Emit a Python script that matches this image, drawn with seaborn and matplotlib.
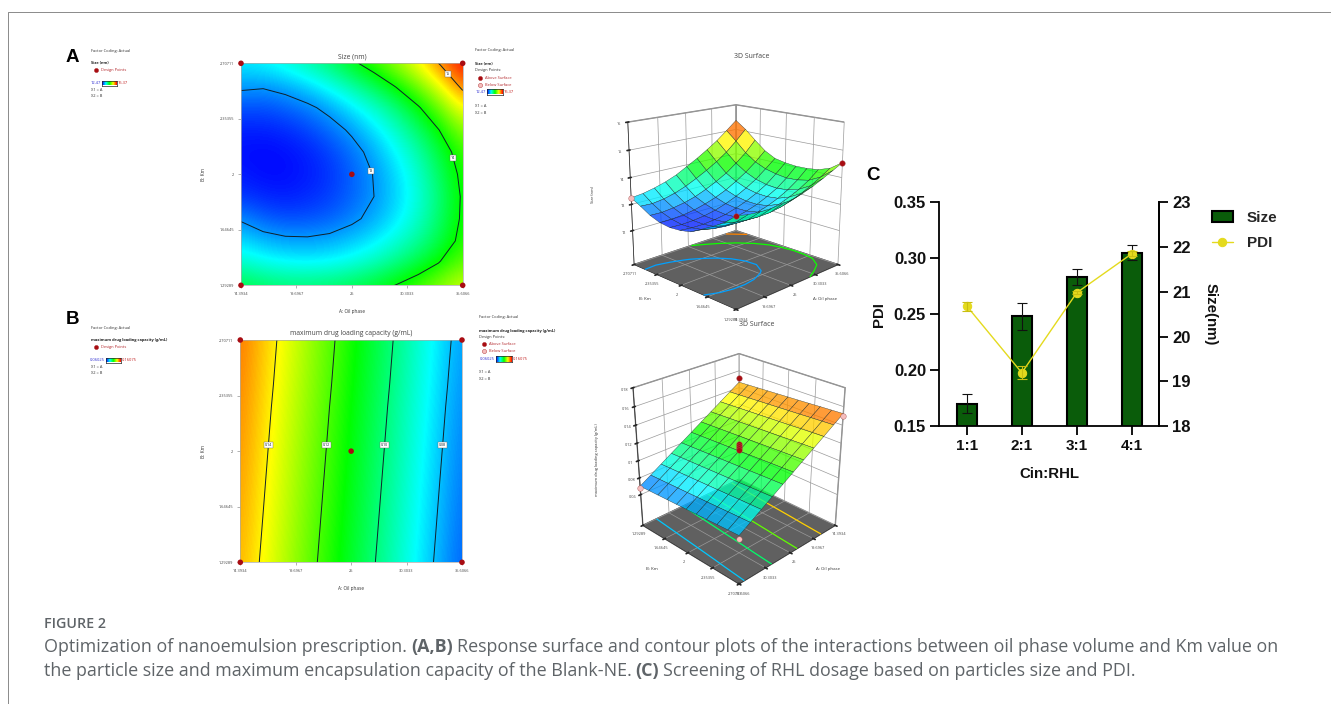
import numpy as np
import pandas as pd
import matplotlib
matplotlib.use('Agg')
import matplotlib.pyplot as plt
from matplotlib.colors import LinearSegmentedColormap, Normalize
from matplotlib.lines import Line2D
import seaborn as sns

W, H = 1331, 704

# Values
oil_ticks = [14.3934, 19.6967, 25, 30.3033, 35.6066]
km_ticks = [1.29289, 1.64645, 2, 2.35355, 2.70711]
oil_labels = ['14.3934', '19.6967', '25', '30.3033', '35.6066']
km_labels = ['1.29289', '1.64645', '2', '2.35355', '2.70711']

# rows go from lowest Km to highest Km, columns from lowest to highest oil phase
size_grid = [
    [13.80, 13.72, 13.68, 13.68, 13.71, 13.77, 13.87, 14.01, 14.18, 14.36, 14.55],
    [13.44, 13.35, 13.30, 13.28, 13.30, 13.37, 13.48, 13.63, 13.81, 14.02, 14.25],
    [13.20, 13.10, 13.05, 13.04, 13.07, 13.14, 13.24, 13.39, 13.57, 13.80, 14.10],
    [12.97, 12.86, 12.81, 12.82, 12.86, 12.95, 13.07, 13.23, 13.44, 13.71, 14.05],
    [12.75, 12.70, 12.68, 12.71, 12.77, 12.87, 13.00, 13.18, 13.39, 13.68, 14.04],
    [12.67, 12.63, 12.63, 12.67, 12.74, 12.86, 13.01, 13.20, 13.43, 13.74, 14.08],
    [12.64, 12.62, 12.64, 12.69, 12.78, 12.91, 13.08, 13.29, 13.53, 13.84, 14.16],
    [12.69, 12.69, 12.72, 12.79, 12.90, 13.04, 13.22, 13.45, 13.71, 14.02, 14.38],
    [12.83, 12.82, 12.87, 12.95, 13.07, 13.24, 13.44, 13.67, 13.97, 14.30, 14.72],
    [13.05, 13.03, 13.09, 13.20, 13.36, 13.56, 13.78, 14.03, 14.32, 14.68, 15.08],
    [13.25, 13.30, 13.40, 13.53, 13.70, 13.93, 14.16, 14.42, 14.70, 15.03, 15.37],
]
capacity_grid = [
    [.1465, .1389, .1312, .1236, .1160, .1083, .1007, .0931, .0855, .0778, .0702],
    [.1471, .1395, .1318, .1242, .1166, .1089, .1013, .0937, .0861, .0784, .0708],
    [.1477, .1401, .1324, .1248, .1172, .1095, .1019, .0943, .0867, .0790, .0714],
    [.1483, .1407, .1330, .1254, .1178, .1101, .1025, .0949, .0873, .0796, .0720],
    [.1489, .1413, .1336, .1260, .1184, .1107, .1031, .0955, .0879, .0802, .0726],
    [.1495, .1419, .1342, .1266, .1190, .1113, .1037, .0961, .0885, .0808, .0732],
    [.1501, .1425, .1348, .1272, .1196, .1119, .1043, .0967, .0891, .0814, .0738],
    [.1507, .1431, .1354, .1278, .1202, .1125, .1049, .0973, .0897, .0820, .0744],
    [.1514, .1438, .1361, .1285, .1209, .1132, .1056, .0980, .0904, .0827, .0751],
    [.1520, .1444, .1367, .1291, .1215, .1138, .1062, .0986, .0910, .0833, .0757],
    [.1526, .1450, .1373, .1297, .1221, .1144, .1068, .0992, .0916, .0839, .0763],
]
oil_grid = [14.3934, 16.5147, 18.6360, 20.7574, 22.8787, 25, 27.1213, 29.2426, 31.3640, 33.4853, 35.6066]
km_grid = [1.29289, 1.43431, 1.57574, 1.71716, 1.85858, 2, 2.14142, 2.28284, 2.42426, 2.56569, 2.70711]

design_oil = [14.3934, 35.6066, 14.3934, 35.6066, 25]
design_km = [1.29289, 1.29289, 2.70711, 2.70711, 2]

size_levels = [13, 14, 15]
capacity_levels = [0.08, 0.10, 0.12, 0.14]
size_label_pos = [(26.5, 2.015), (34.55, 2.104), (34.07, 2.633)]
capacity_label_pos = [(33.8, 2.04), (28.25, 2.04), (22.68, 2.04), (17.1, 2.04)]

# panel C, bars are read on the left axis, the line on the right axis
ratios = ['1:1', '2:1', '3:1', '4:1']
bar_values = [0.170, 0.248, 0.283, 0.305]
bar_errors = [0.0085, 0.012, 0.007, 0.0065]
line_values = [20.68, 19.19, 20.98, 21.85]
line_errors = [0.10, 0.15, 0.04, 0.06]

sns.set_theme(style='ticks')
plt.rcParams['font.family'] = ['Open Sans', 'DejaVu Sans']
plt.rcParams['axes.linewidth'] = 0.5

surface_cmap = LinearSegmentedColormap.from_list('de', ['#0000ff', '#00ffff', '#00ff00', '#ffff00', '#ff0000'])
DOT = '#A80C12'
PINK = '#F5BDBD'

fig = plt.figure(figsize=(W / 100, H / 100), dpi=100)


def px_axes(left, top, right, bottom, **kw):
    return fig.add_axes([left / W, 1 - bottom / H, (right - left) / W, (bottom - top) / H], **kw)


def ptext(x, y, s, **kw):
    kw.setdefault('va', 'center')
    kw.setdefault('ha', 'left')
    kw.setdefault('color', '#333333')
    return fig.text(x / W, 1 - y / H, s, **kw)


def contour_panel(box, grid, vmin, vmax, levels, label_pos, fmt, title):
    ax = px_axes(*box)
    grid = np.array(grid)
    dx = (oil_grid[1] - oil_grid[0]) / 2
    dy = (km_grid[1] - km_grid[0]) / 2
    ax.imshow(grid, origin='lower', aspect='auto', cmap=surface_cmap, vmin=vmin, vmax=vmax,
              interpolation='bicubic',
              extent=[oil_grid[0] - dx, oil_grid[-1] + dx, km_grid[0] - dy, km_grid[-1] + dy])
    cs = ax.contour(oil_grid, km_grid, grid, levels=levels, colors='#10202a', linewidths=0.7)
    labels = ax.clabel(cs, manual=label_pos, fmt=fmt, fontsize=2.6, inline=False)
    for t in labels:
        t.set_rotation(0)
        t.set_bbox(dict(fc='white', ec='#666666', lw=0.3, pad=0.7))
    sns.scatterplot(x=design_oil, y=design_km, color=DOT, s=16, edgecolor='none', clip_on=False, zorder=5, ax=ax)
    ax.set_xlim(oil_grid[0], oil_grid[-1])
    ax.set_ylim(km_grid[0], km_grid[-1])
    ax.set_xticks(oil_ticks, oil_labels, fontsize=2.8, color='#444444')
    ax.set_yticks(km_ticks, km_labels, fontsize=2.8, color='#444444')
    ax.tick_params(length=2.5, width=0.4, color='#777777', pad=2.5)
    for s in ax.spines.values():
        s.set_color('#aaaaaa')
    cx = (box[0] + box[2]) / 2
    ptext(cx, box[1] - 6, title, ha='center', fontsize=4.85, color='#444444')
    ptext(cx, box[3] + 26, 'A: Oil phase', ha='center', fontsize=3.4)
    ptext(204, (box[1] + box[3]) / 2, 'B: Km', ha='center', rotation=90, fontsize=3.4)
    return ax


def surface_panel(box, grid, zlim, zticks, zlabels, vmin, vmax, levels, elev, azim, z_aspect, zoom, points):
    ax = px_axes(*box, projection='3d', computed_zorder=False)
    ax.patch.set_alpha(0)
    X, Y = np.meshgrid(oil_grid, km_grid)
    Z = np.array(grid)
    norm = Normalize(vmin, vmax)
    ax.contour(X, Y, Z, levels=levels, zdir='z', offset=zlim[0], cmap=surface_cmap, norm=norm,
               linewidths=0.9, zorder=1)
    ax.plot_surface(X, Y, Z, cmap=surface_cmap, norm=norm, edgecolor='#1c2a2a', linewidth=0.25,
                    alpha=0.78, shade=False, zorder=2, rstride=1, cstride=1)
    for px, py, pz, c in points:
        ax.scatter([px], [py], [pz], color=c, edgecolor='#aa5555', linewidth=0.3, s=16, depthshade=False, zorder=3)
    ax.set_xlim(oil_grid[0], oil_grid[-1])
    ax.set_ylim(km_grid[0], km_grid[-1])
    ax.set_zlim(*zlim)
    ax.set_xticks(oil_ticks, oil_labels, fontsize=2.8, color='#444444')
    ax.set_yticks(km_ticks, km_labels, fontsize=2.8, color='#444444')
    ax.set_zticks(zticks, zlabels, fontsize=2.8, color='#444444')
    ax.tick_params(pad=-4, length=0)
    ax.view_init(elev=elev, azim=azim)
    ax.set_proj_type('persp', focal_length=0.5)
    ax.set_box_aspect((1, 1, z_aspect), zoom=zoom)
    for axis in (ax.xaxis, ax.yaxis):
        axis.set_pane_color('white')
        axis._axinfo['grid'].update(color='#9a9a9a', linewidth=0.5)
        axis.pane.set_edgecolor('#8a8a8a')
    ax.zaxis.set_pane_color('#606060')
    ax.zaxis._axinfo['grid'].update(color='#9a9a9a', linewidth=0.5)
    ax.zaxis.pane.set_edgecolor('#606060')
    return ax


def side_legend(x, ys, name, low, high, bar_box, above=False):
    ptext(x, ys[0], 'Factor Coding: Actual', fontsize=2.9)
    ptext(x, ys[1], name, fontsize=2.9, fontweight='bold', color='#222222')
    if above:
        ptext(x, ys[2], 'Design Points:', fontsize=2.9)
        rows = [(ys[3], DOT, 'Above Surface'), (ys[4], PINK, 'Below Surface')]
    else:
        rows = [(ys[2], DOT, 'Design Points')]
    for y, c, s in rows:
        fig.add_artist(Line2D([(x + 4.5) / W], [1 - y / H], marker='o', ms=3, mfc=c, mec='#aa2222', mew=0.3, ls='none'))
        ptext(x + 9.5, y, s, fontsize=2.9, color='#B3262B')
    l, t, r, b = bar_box
    cb = px_axes(l, t, r, b)
    cb.imshow(np.linspace(0, 1, 64)[None, :], aspect='auto', cmap=surface_cmap)
    cb.set_xticks([])
    cb.set_yticks([])
    ptext(l - 1, (t + b) / 2, low, ha='right', fontsize=2.9, color='#2a2ad0')
    ptext(r + 1, (t + b) / 2, high, fontsize=2.9, color='#c01a1a')
    ptext(x, ys[-2], 'X1 = A', fontsize=2.9)
    ptext(x, ys[-1], 'X2 = B', fontsize=2.9)


# contour plots
contour_panel((241, 63.3, 462.7, 285.3), size_grid, 12.6, 15.37, size_levels, size_label_pos, '%g', 'Size (nm)')
contour_panel((240.3, 340, 462, 562.3), capacity_grid, 0.06, 0.165, capacity_levels, capacity_label_pos,
              '%.2f', 'maximum drug loading capacity (g/mL)')

side_legend(91.3, [50.7, 63.3, 70, 89.7, 96], 'Size (nm)', '12.47', '15.37', (102, 80.5, 116.7, 85.5))
side_legend(475.3, [50.3, 63.6, 70, 78, 84.7, 105.7, 112.7], 'Size (nm)', '12.47', '15.37',
            (486.7, 89, 502.7, 94.5), above=True)
side_legend(91.3, [328, 340.3, 347, 366.7, 373], 'maximum drug loading capacity (g/mL)', '0.06025', '0.16075',
            (106, 357.5, 120.7, 362.5))
side_legend(479.3, [316.7, 330.7, 337, 344, 351, 372.3, 379], 'maximum drug loading capacity (g/mL)',
            '0.06025', '0.16075', (496, 356, 512, 361.5), above=True)

# 3D surfaces
surface_panel((585, 69, 880, 329), size_grid, (10.67, 16), [12, 13, 14, 15, 16], ['12', '13', '14', '15', '16'],
              12.55, 15.37, [13, 14, 15], 16.5, -135, 1.0, 0.96,
              [(14.3934, 1.29289, 13.8, DOT), (35.6066, 1.29289, 14.55, DOT), (14.3934, 2.70711, 13.25, PINK)])
surface_panel((588, 331, 883, 596), capacity_grid, (0.022, 0.18), [0.06, 0.08, 0.1, 0.12, 0.14, 0.16, 0.18],
              ['0.06', '0.08', '0.1', '0.12', '0.14', '0.16', '0.18'],
              0.06025, 0.16075, capacity_levels, 27, 45, 1.08, 0.93,
              [(14.3934, 1.29289, 0.152, DOT), (14.3934, 2.70711, 0.150, PINK), (35.6066, 1.29289, 0.068, PINK),
               (35.6066, 2.70711, 0.072, PINK), (25, 2, 0.1190, DOT), (25, 2, 0.1165, DOT), (25, 2, 0.1145, DOT),
               (25, 2, 0.1125, DOT)])

ptext(752, 57, '3D Surface', ha='center', fontsize=5, color='#444444')
ptext(757, 324, '3D Surface', ha='center', fontsize=5, color='#444444')
ptext(593, 194, 'Size (nm)', ha='center', rotation=90, fontsize=2.9)
ptext(597, 460, 'maximum drug loading capacity (g/mL)', ha='center', rotation=90, fontsize=2.9)
ptext(645, 299, 'B: Km', ha='center', fontsize=3.2)
ptext(825, 299, 'A: Oil phase', ha='center', fontsize=3.2)
ptext(652, 569, 'B: Km', ha='center', fontsize=3.2)
ptext(828, 569, 'A: Oil phase', ha='center', fontsize=3.2)

# panel C
bold = dict(family=['Liberation Sans', 'DejaVu Sans'], fontweight='bold')
ax = px_axes(939.3, 202.3, 1159.3, 426)
df = pd.DataFrame({'ratio': ratios, 'bar': bar_values, 'line': line_values})
sns.barplot(data=df, x='ratio', y='bar', color='#0A5C0A', saturation=1, edgecolor='black', linewidth=1.5,
            width=0.36, errorbar=None, label='Size', ax=ax)
ax.errorbar(np.arange(4), bar_values, yerr=bar_errors, fmt='none', ecolor='#111111', elinewidth=0.8, capsize=3.6,
            capthick=0.8, zorder=4)
ax.set_xlim(-0.5, 3.5)
ax.set_ylim(0.15, 0.35)
ax.set_yticks([0.15, 0.20, 0.25, 0.30, 0.35], ['0.15', '0.20', '0.25', '0.30', '0.35'], fontsize=12, **bold)
ax.set_xticks(range(4), ratios, fontsize=11, **bold)
ax.set_xlabel('Cin:RHL', fontsize=10.8, labelpad=10, **bold)
ax.set_ylabel('PDI', fontsize=10.8, labelpad=6, **bold)
ax2 = ax.twinx()
sns.lineplot(x=np.arange(4), y=line_values, color='#E4DA1E', marker='o', markersize=6, markeredgecolor='#E4DA1E',
             linewidth=1.0, errorbar=None, label='PDI', ax=ax2)
ax2.errorbar(np.arange(4), line_values, yerr=line_errors, fmt='none', ecolor='#C9BF10', elinewidth=0.8, capsize=3.6,
             capthick=0.8)
ax2.set_ylim(18, 23)
ax2.set_yticks([18, 19, 20, 21, 22, 23], ['18', '19', '20', '21', '22', '23'], fontsize=12, **bold)
ax2.set_ylabel('Size(nm)', fontsize=10.8, rotation=270, labelpad=19, **bold)
for a in (ax, ax2):
    a.spines['top'].set_visible(False)
    a.tick_params(length=6.5, width=1.3, color='black', pad=3, labelcolor='#111111')
    a.xaxis.label.set_color('#111111')
    a.yaxis.label.set_color('#111111')
    for s in a.spines.values():
        s.set_linewidth(1.3)
        s.set_color('black')
ax2.spines['left'].set_visible(False)
ax2.spines['bottom'].set_visible(False)
h1, l1 = ax.get_legend_handles_labels()
h2, l2 = ax2.get_legend_handles_labels()
ax.get_legend().remove()
ax2.get_legend().remove()
fig.legend(h1 + h2, l1 + l2, loc='upper left', bbox_to_anchor=(1198 / W, 1 - 197 / H), frameon=False,
           handlelength=1.4, handletextpad=0.9, labelspacing=0.75,
           prop=dict(family='Liberation Sans', weight='bold', size=11))

# panel letters
ptext(66, 58, 'A', fontsize=13.5, color='black', **bold)
ptext(66, 320, 'B', fontsize=13.5, color='black', **bold)
ptext(866, 176, 'C', fontsize=13.5, color='black', **bold)

# page frame
fig.add_artist(Line2D([8 / W, 8 / W, 1], [0, 1 - 12 / H, 1 - 12 / H], color='#8a8a8a', lw=0.7))

# caption
GRAY = '#5f6468'
ptext(44, 624, 'FIGURE 2', fontsize=10.3, color=GRAY, fontweight='semibold')
renderer = fig.canvas.get_renderer()


def caption_line(y, runs):
    x = 44
    for s, weight in runs:
        t = ptext(x, y, s, fontsize=12.92, color=GRAY, fontweight=weight)
        x = t.get_window_extent(renderer).x1 + 4


caption_line(647, [('Optimization of nanoemulsion prescription.', 'normal'), ('(A,B)', 'bold'),
                   ('Response surface and contour plots of the interactions between oil phase volume and Km value on', 'normal')])
caption_line(671, [('the particle size and maximum encapsulation capacity of the Blank-NE.', 'normal'), ('(C)', 'bold'),
                   ('Screening of RHL dosage based on particles size and PDI.', 'normal')])

fig.savefig('out.png', dpi=100, facecolor='white')
